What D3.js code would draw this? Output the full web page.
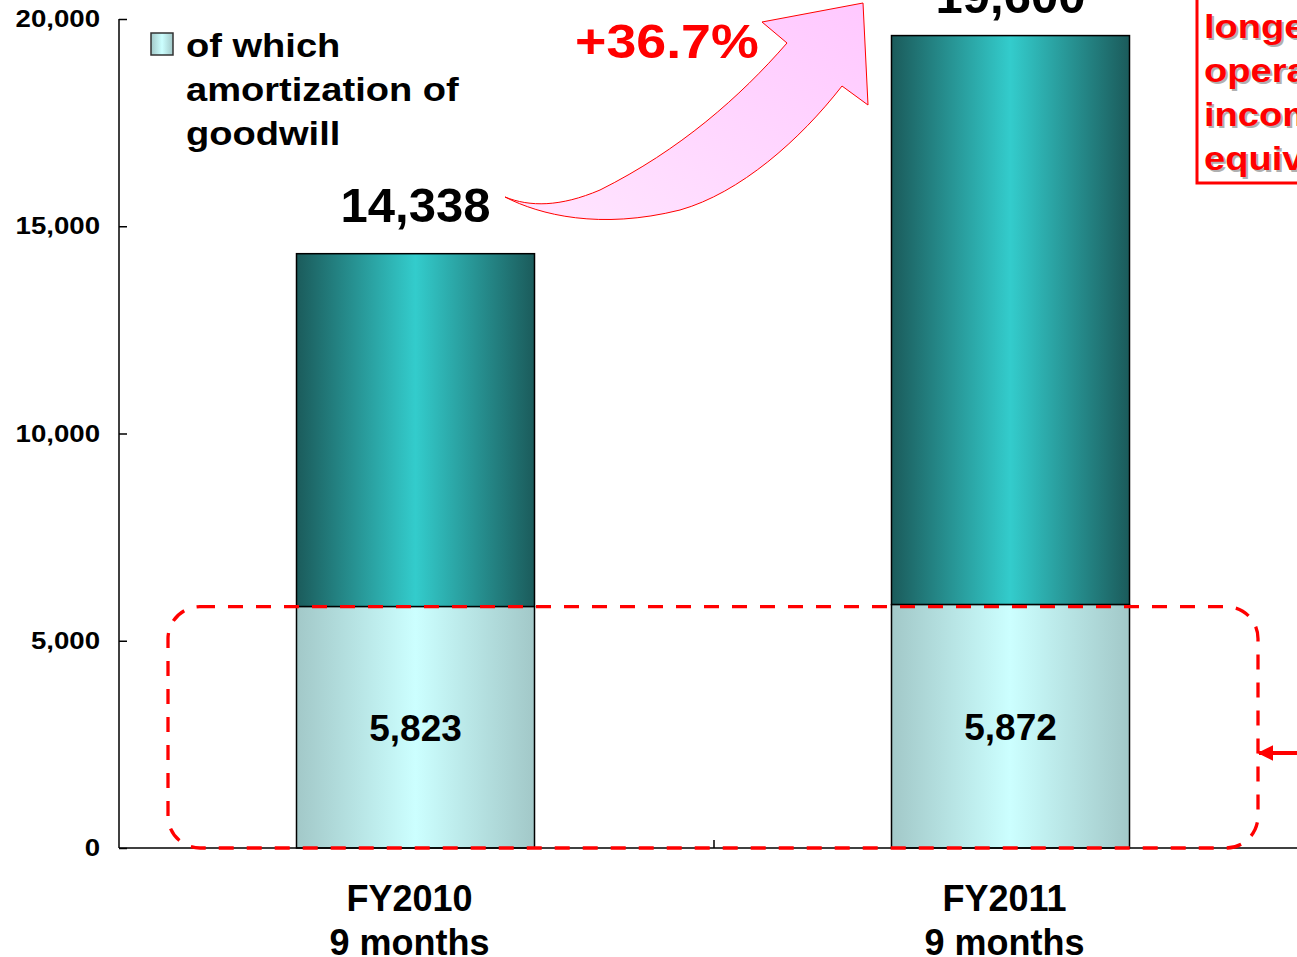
<!DOCTYPE html>
<html>
<head>
<meta charset="utf-8">
<script src="https://cdn.jsdelivr.net/npm/d3@7"></script>
<style>
  html, body { margin: 0; padding: 0; background: #fff; }
  svg { display: block; font-family: "Liberation Sans", Arial, sans-serif; font-weight: bold; }
</style>
</head>
<body>
<svg id="chart" width="1297" height="957"></svg>
<script>
// data
const categories = ["FY2010", "FY2011"]
const periods = ["9 months", "9 months"]
const totals = [14338, 19600]
const goodwill = [5823, 5872]
const yTicks = [0, 5000, 10000, 15000, 20000]
const growthLabel = "+36.7%"
const legendLines = ["of which", "amortization of", "goodwill"]
const noteLines = ["longer", "operating", "income", "equivalent"]

const svg = d3.select("#chart")
const defs = svg.append("defs")

// horizontal "cylinder" shading for the bars
function barGradient(id, edge, mid) {
  const g = defs.append("linearGradient").attr("id", id)
    .attr("x1", "0%").attr("x2", "100%").attr("y1", "0%").attr("y2", "0%")
  g.append("stop").attr("offset", "0%").attr("stop-color", edge)
  g.append("stop").attr("offset", "50%").attr("stop-color", mid)
  g.append("stop").attr("offset", "100%").attr("stop-color", edge)
}
barGradient("gradTop", "#1b5b5b", "#33cccc")
barGradient("gradLow", "#a2c8c8", "#ccffff")

const pink = defs.append("linearGradient").attr("id", "gradPink")
  .attr("x1", "0%").attr("y1", "100%").attr("x2", "100%").attr("y2", "0%")
pink.append("stop").attr("offset", "0%").attr("stop-color", "#ffe6ff")
pink.append("stop").attr("offset", "100%").attr("stop-color", "#ffc8ff")

const x = d3.scaleBand().domain(categories).range([119, 1309])
  .paddingInner(0.6).paddingOuter(0.3)
const y = d3.scaleLinear().domain([0, 20000]).range([848, 19])

// stretched text helper (the original fonts are wider than Liberation)
function label(parent, txt, px, py, size, sx, anchor, fill) {
  return parent.append("text")
    .attr("transform", `translate(${px},${py}) scale(${sx},1)`)
    .attr("text-anchor", anchor || "start")
    .attr("font-size", size)
    .attr("fill", fill || "#000")
    .text(txt)
}

// bars: lower = goodwill, upper = rest
const bars = svg.append("g")
categories.forEach((c, i) => {
  bars.append("rect")
    .attr("x", x(c) - 1).attr("width", x.bandwidth())
    .attr("y", y(totals[i])).attr("height", y(goodwill[i]) - y(totals[i]))
    .attr("fill", "url(#gradTop)").attr("stroke", "#000").attr("stroke-width", 1.5)
  bars.append("rect")
    .attr("x", x(c) - 1).attr("width", x.bandwidth())
    .attr("y", y(goodwill[i])).attr("height", y(0) - y(goodwill[i]))
    .attr("fill", "url(#gradLow)").attr("stroke", "#000").attr("stroke-width", 1.5)
})

// axes
const yAxis = svg.append("g").attr("transform", "translate(119,0)")
  .call(d3.axisRight(y).tickValues(yTicks).tickSize(8).tickFormat(""))
yAxis.select(".domain").attr("d", `M0,${y(20000)}V${y(0)}`).attr("stroke-width", 1.5)
yAxis.selectAll(".tick line").attr("stroke-width", 1.5)
yTicks.forEach(t => label(svg, d3.format(",")(t), 100, y(t) + 8, 24, 1.15, "end"))

svg.append("line").attr("x1", 119).attr("x2", 1297).attr("y1", y(0)).attr("y2", y(0))
  .attr("stroke", "#000").attr("stroke-width", 1.5)
const midX = (x(categories[0]) + x.bandwidth() + x(categories[1])) / 2
svg.append("line").attr("x1", midX).attr("x2", midX).attr("y1", y(0)).attr("y2", y(0) - 8)
  .attr("stroke", "#000").attr("stroke-width", 1.5)

categories.forEach((c, i) => {
  const cx = x(c) + x.bandwidth() / 2 - 7
  label(svg, c, cx, 911, 36, 1, "middle")
  label(svg, periods[i], cx, 955, 36, 1, "middle")
})

// value labels
categories.forEach((c, i) => {
  const cx = x(c) + x.bandwidth() / 2 - 1
  label(svg, d3.format(",")(goodwill[i]), cx, (y(goodwill[i]) + y(0)) / 2 + 14, 37, 1, "middle")
  label(svg, d3.format(",")(totals[i]), cx, Math.max(y(totals[i]) - 32, 13), 49, 1, "middle")
})

// dashed frame around the goodwill part
svg.append("rect")
  .attr("x", 168).attr("y", y(goodwill[0]))
  .attr("width", 1258 - 168).attr("height", y(0) - y(goodwill[0]))
  .attr("rx", 32).attr("ry", 32)
  .attr("fill", "none").attr("stroke", "#ff0000").attr("stroke-width", 3.3)
  .attr("stroke-dasharray", "15,13")

defs.append("marker").attr("id", "head").attr("viewBox", "0 0 10 10")
  .attr("refX", 9).attr("refY", 5).attr("markerWidth", 4).attr("markerHeight", 4)
  .attr("orient", "auto")
  .append("path").attr("d", "M0,0L10,5L0,10Z").attr("fill", "#ff0000")
svg.append("line").attr("x1", 1300).attr("x2", 1259).attr("y1", 753).attr("y2", 753)
  .attr("stroke", "#ff0000").attr("stroke-width", 4).attr("marker-end", "url(#head)")

// growth arrow
svg.append("path")
  .attr("d", "M505,197 C540,215 600,230 680,210 C740,193 800,140 842,86 L868,105 L863,3 L762,22 L787,43 C740,97 680,150 600,190 C560,207 530,207 505,197 Z")
  .attr("fill", "url(#gradPink)").attr("stroke", "#ff0000").attr("stroke-width", 1)
label(svg, growthLabel, 575, 58, 48, 1.12, "start", "#ff0000")

// legend
svg.append("rect").attr("x", 151).attr("y", 33).attr("width", 22).attr("height", 22)
  .attr("fill", "url(#gradLow)").attr("stroke", "#333").attr("stroke-width", 1.5)
legendLines.forEach((t, i) => label(svg, t, 186, 57 + i * 44, 34, 1.12))

// red note box on the right (cut by the frame)
svg.append("rect").attr("x", 1197).attr("y", -5).attr("width", 200).attr("height", 188)
  .attr("fill", "#fff").attr("stroke", "#ff0000").attr("stroke-width", 3)
noteLines.forEach((t, i) => {
  label(svg, t, 1206, 40 + i * 44, 34, 1.12, "start", "#b0b0b0")
  label(svg, t, 1204, 38 + i * 44, 34, 1.12, "start", "#ff0000")
})
</script>
</body>
</html>
